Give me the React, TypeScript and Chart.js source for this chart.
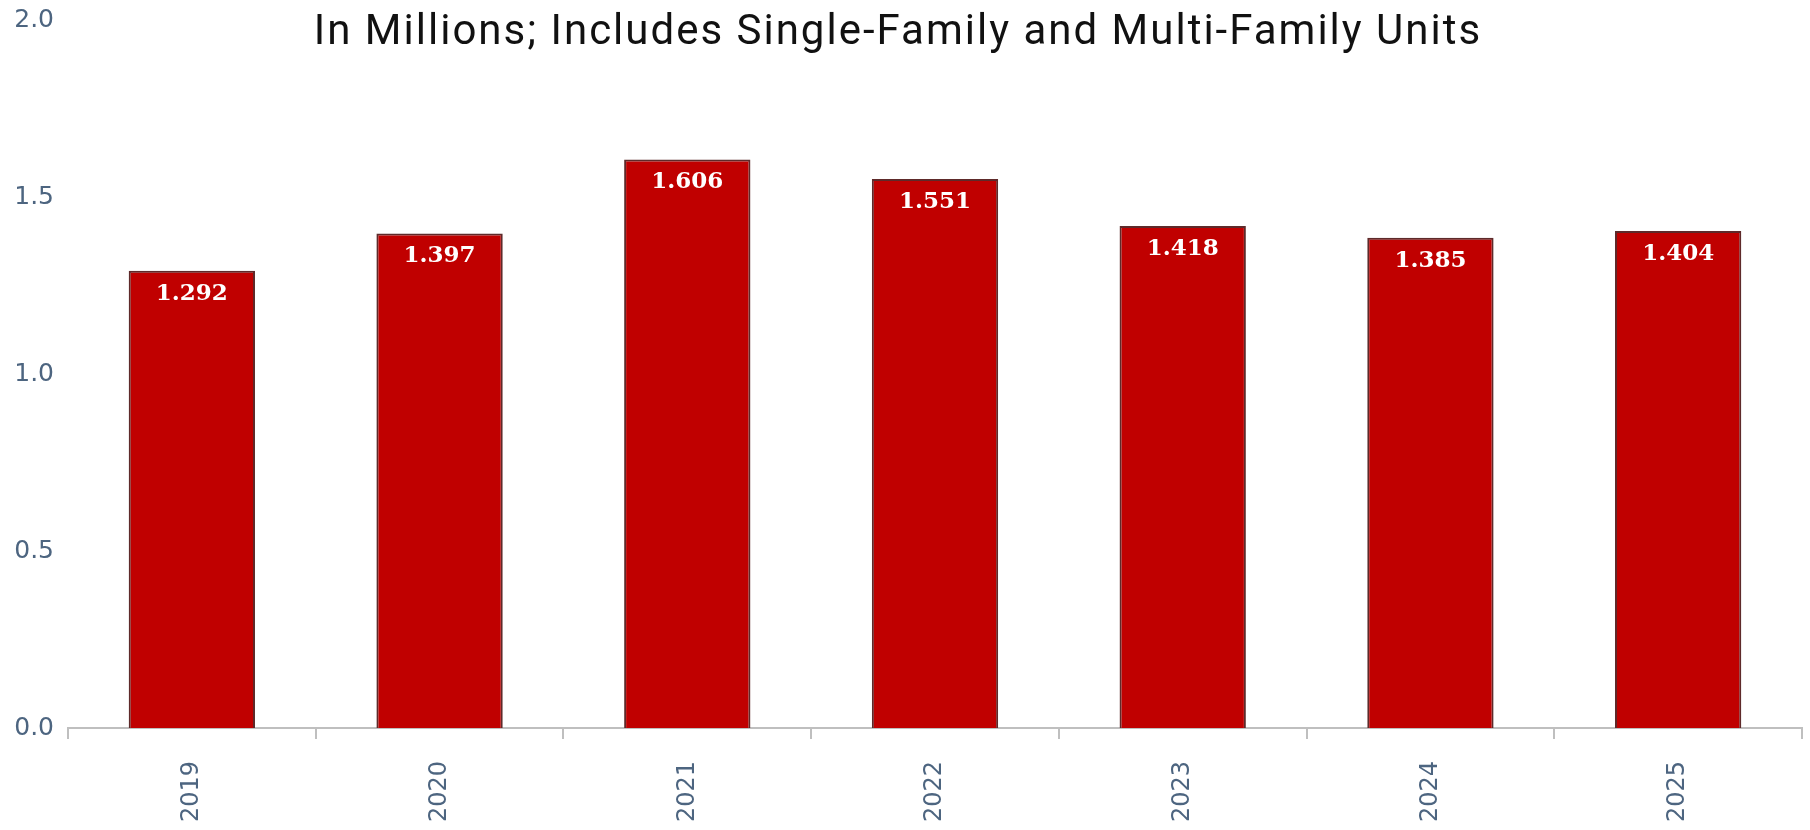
import React, { useEffect, useRef } from "react";
import { Chart, registerables } from "chart.js";

Chart.register(...registerables);

const categories = ["2019", "2020", "2021", "2022", "2023", "2024", "2025"];
const starts = [1.292, 1.397, 1.606, 1.551, 1.418, 1.385, 1.404];
const yTicks = [0, 0.5, 1.0, 1.5, 2.0];
const titleText = "In Millions; Includes Single-Family and Multi-Family Units";

const labelColor = "#4d6580";
const axisColor = "#bfbfbf";
const barColor = "#C00000";

const valueLabels = {
  id: "valueLabels",
  afterDatasetsDraw(chart: any) {
    const ctx = chart.ctx;
    const meta = chart.getDatasetMeta(0);
    ctx.save();
    ctx.font = "bold 23px 'DejaVu Serif'";
    ctx.fillStyle = "#ffffff";
    ctx.textAlign = "center";
    ctx.textBaseline = "middle";
    meta.data.forEach((bar: any, i: number) => {
      const v = chart.data.datasets[0].data[i] as number;
      ctx.fillText(v.toFixed(3), bar.x, bar.y + 23);
    });
    ctx.restore();
  },
};

const titlePlugin = {
  id: "overlayTitle",
  afterDraw(chart: any) {
    const ctx = chart.ctx;
    ctx.save();
    ctx.font = "42px Roboto";
    (ctx as any).letterSpacing = "2px";
    ctx.fillStyle = "#111111";
    ctx.textAlign = "center";
    ctx.textBaseline = "alphabetic";
    ctx.fillText(titleText, 898, 44);
    ctx.restore();
  },
};

export default function App() {
  const ref = useRef<HTMLCanvasElement | null>(null);

  useEffect(() => {
    if (!ref.current) return;
    const chart = new Chart(ref.current, {
      type: "bar",
      data: {
        labels: categories,
        datasets: [
          {
            data: starts,
            backgroundColor: barColor,
            borderColor: "#5e2a2a",
            borderWidth: 2,
            barPercentage: 0.51,
            categoryPercentage: 1,
          },
        ],
      },
      options: {
        animation: false,
        responsive: true,
        maintainAspectRatio: false,
        layout: { padding: { top: 20, right: 8, left: 0, bottom: 0 } },
        plugins: {
          legend: { display: false },
          tooltip: { enabled: false },
          title: { display: false },
        },
        scales: {
          x: {
            grid: {
              display: true,
              drawOnChartArea: false,
              drawTicks: true,
              tickLength: 11,
              color: axisColor,
              lineWidth: 2,
              offset: true,
            },
            border: { display: true, color: axisColor, width: 2 },
            ticks: {
              color: labelColor,
              font: { family: "DejaVu Sans", size: 24 },
              maxRotation: 90,
              minRotation: 90,
              padding: 22,
              autoSkip: false,
            },
            afterFit: (s: any) => {
              s.height = 102;
            },
          },
          y: {
            min: 0,
            max: 2,
            grid: { display: false, drawTicks: false },
            border: { display: false },
            ticks: {
              color: labelColor,
              font: { family: "DejaVu Sans", size: 25 },
              padding: 14,
              callback: (v: any) => Number(v).toFixed(1),
            },
            afterBuildTicks: (s: any) => {
              s.ticks = yTicks.map((v) => ({ value: v }));
            },
            afterFit: (s: any) => {
              s.width = 68;
              s.paddingTop = 0;
              s.paddingBottom = 0;
            },
          },
        },
      },
      plugins: [valueLabels, titlePlugin],
    });
    return () => chart.destroy();
  }, []);

  return (
    <div style={{ position: "absolute", left: 0, top: 0, width: 1810, height: 830, background: "#ffffff" }}>
      <canvas ref={ref} style={{ display: "block" }} />
    </div>
  );
}
